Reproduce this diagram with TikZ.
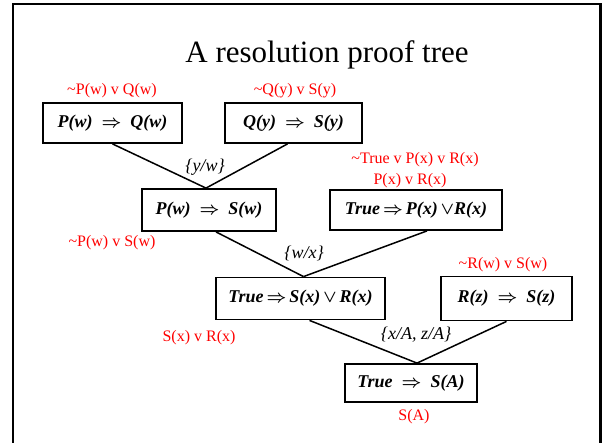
\documentclass[tikz,border=0pt]{standalone}
\usepackage{fontspec}
\setmainfont{Liberation Serif}
\usetikzlibrary{calc}
\begin{document}
\begin{tikzpicture}[x=1pt,y=-1pt,
  clause/.style={draw=black, line width=1.8pt, fill=white, inner sep=0pt,
    font=\fontsize{18}{20}\selectfont\bfseries\itshape\boldmath},
  redlbl/.style={text=red, inner sep=0pt, font=\fontsize{16}{18}\selectfont},
  subst/.style={inner sep=0pt, font=\fontsize{18}{20}\selectfont\itshape},
  edge/.style={line width=1.5pt, draw=black}]
\useasboundingbox (0,0) rectangle (602,442);
\begin{scope}
\clip (0,0) rectangle (602,442);
\draw[line width=2.5pt] (13,4) rectangle (600.5,460);
\end{scope}
\node[anchor=base, font=\fontsize{31}{36}\selectfont] (title) at (327,62) {A resolution proof tree};

% clauses
\node[clause, minimum width=139pt, minimum height=40pt] (b1) at (112.5,123) {P(w)\enspace$\Rightarrow$\enspace Q(w)};
\node[clause, minimum width=137pt, minimum height=40pt] (b2) at (293.5,123) {Q(y)\enspace$\Rightarrow$\enspace S(y)};
\node[clause, minimum width=134pt, minimum height=42pt] (b3) at (209,210) {P(w)\enspace$\Rightarrow$\enspace S(w)};
\node[clause, minimum width=172pt, minimum height=40pt] (b4) at (416,210) {True\,$\Rightarrow$\,P(x)\,$\vee$R(x)};
\node[clause, minimum width=169pt, minimum height=42pt] (b5) at (300.5,298.5) {True\,$\Rightarrow$\,S(x)\,$\vee$\,R(x)};
\node[clause, minimum width=131pt, minimum height=44pt] (b6) at (506.5,298.5) {R(z)\enspace$\Rightarrow$\enspace S(z)};
\node[clause, minimum width=132pt, minimum height=38pt] (b7) at (411,383) {True\enspace$\Rightarrow$\enspace S(A)};

% connectors
\coordinate (m3) at ($(b3.north)+(-3,0)$);
\coordinate (m5) at ($(b5.north)+(3,0)$);
\coordinate (m7) at ($(b7.north)+(6,0)$);
\draw[edge] (b1.south) -- (m3);
\draw[edge] ($(b2.south)+(-6,0)$) -- (m3);
\draw[edge] ($(b3.south)+(7,0)$) -- (m5);
\draw[edge] ($(b4.south)+(11,0)$) -- (m5);
\draw[edge] ($(b5.south)+(9,0)$) -- (m7);
\draw[edge] (b6.south) -- (m7);

% substitutions
\node[subst] (s1) at (205,167) {\{y/w\}};
\node[subst] (s2) at (304,253) {\{w/x\}};
\node[subst] (s3) at (416,335) {\{x/A, z/A\}};

% red clause forms
\node[redlbl] (r1) at (112,91) {\textasciitilde P(w) v Q(w)};
\node[redlbl] (r2) at (295,91) {\textasciitilde Q(y) v S(y)};
\node[redlbl] (r3) at (415,160) {\textasciitilde True v P(x) v R(x)};
\node[redlbl] (r4) at (410,181) {P(x) v R(x)};
\node[redlbl] (r5) at (112,243) {\textasciitilde P(w) v S(w)};
\node[redlbl] (r6) at (503,265) {\textasciitilde R(w) v S(w)};
\node[redlbl] (r7) at (199,338) {S(x) v R(x)};
\node[redlbl] (r8) at (414,417) {S(A)};
\end{tikzpicture}
\end{document}
